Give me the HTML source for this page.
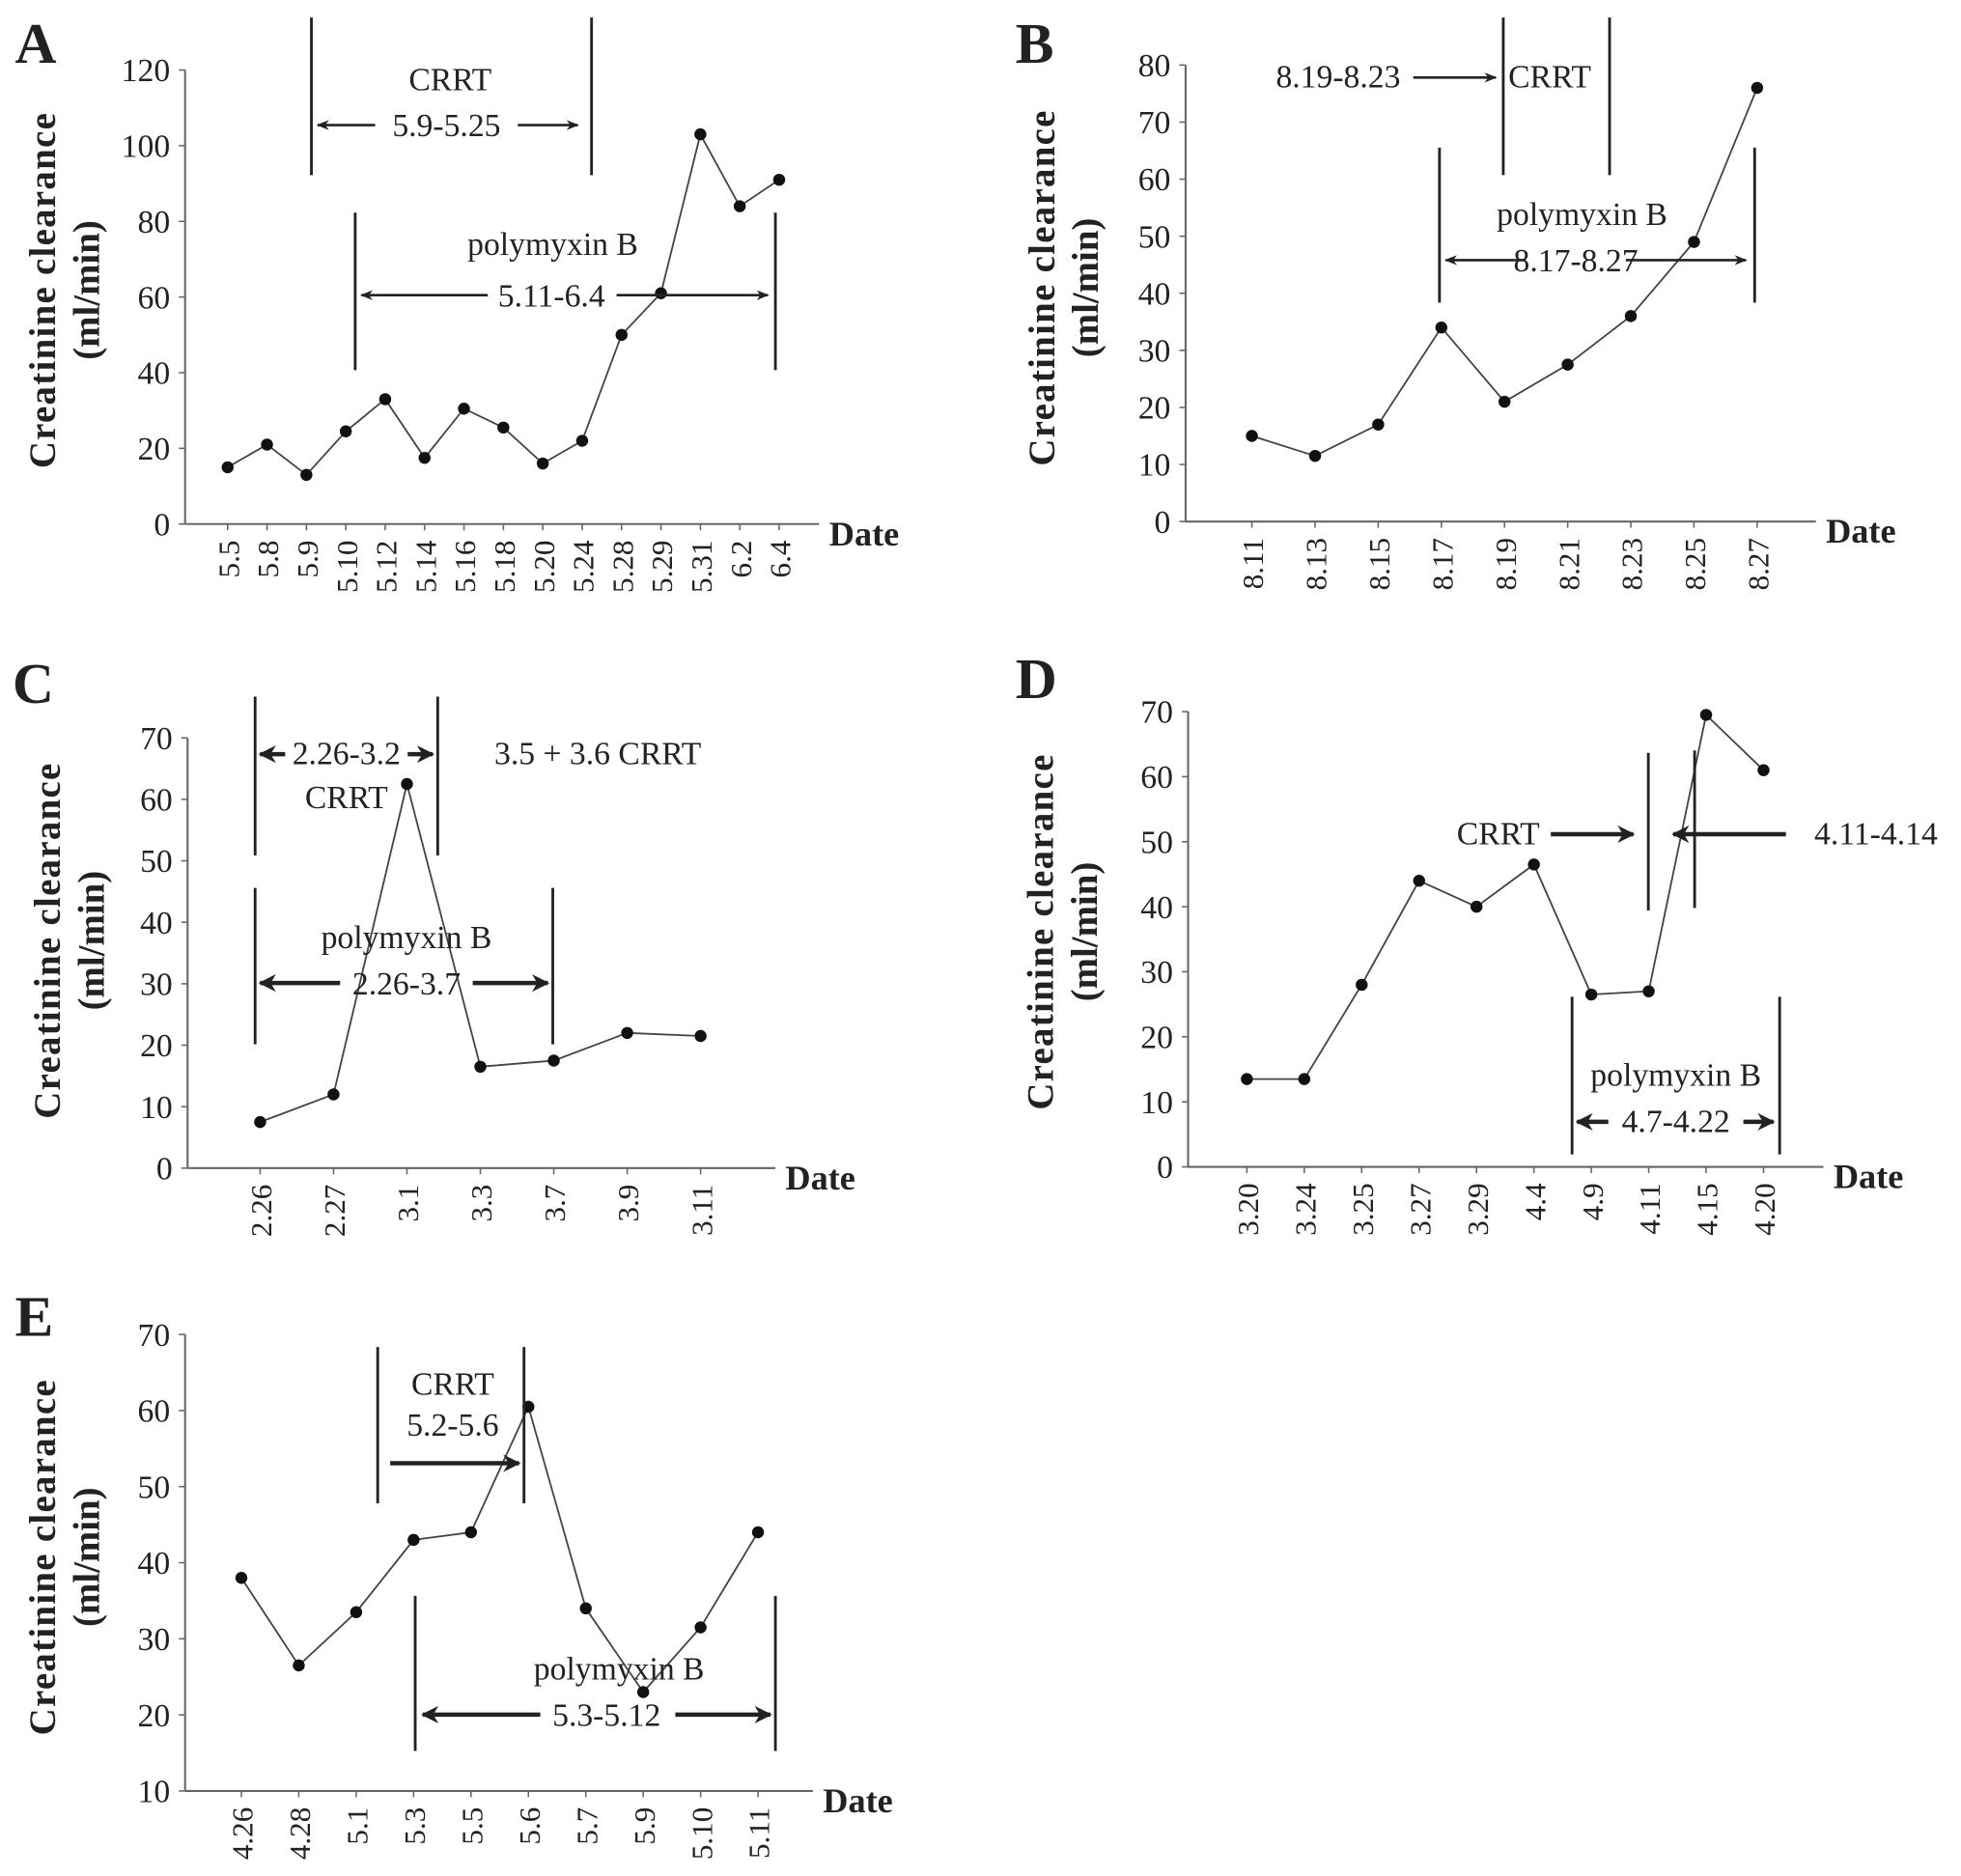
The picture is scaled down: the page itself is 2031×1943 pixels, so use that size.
<!DOCTYPE html>
<html><head><meta charset="utf-8"><style>
html,body{margin:0;padding:0;background:#fff;}
svg{display:block;}
text{font-family:"Liberation Serif",serif;fill:#222;}
</style></head><body>
<svg id="fig" width="2031" height="1943" viewBox="0 0 1568 1500" preserveAspectRatio="none" xmlns="http://www.w3.org/2000/svg">
<defs>
<marker id="ah" viewBox="0 0 10 10" refX="9" refY="5" markerWidth="5" markerHeight="5" orient="auto-start-reverse"><path d="M0,1 L10,5 L0,9 L3,5 z" fill="#222"/></marker>
<marker id="ahb" viewBox="0 0 10 10" refX="9" refY="5" markerWidth="4" markerHeight="4" orient="auto-start-reverse"><path d="M0,0 L10,5 L0,10 L3,5 z" fill="#222"/></marker>
</defs>
</svg>
<script>
// Panel A
const catsA=["5.5","5.8","5.9","5.10","5.12","5.14","5.16","5.18","5.20","5.24","5.28","5.29","5.31","6.2","6.4"];
const valsA=[15,21,13,24.5,33,17.5,30.5,25.5,16,22,50,61,103,84,91];
const ticksA=[0,20,40,60,80,100,120];
// Panel B
const catsB=["8.11","8.13","8.15","8.17","8.19","8.21","8.23","8.25","8.27"];
const valsB=[15,11.5,17,34,21,27.5,36,49,76];
const ticksB=[0,10,20,30,40,50,60,70,80];
// Panel C
const catsC=["2.26","2.27","3.1","3.3","3.7","3.9","3.11"];
const valsC=[7.5,12,62.5,16.5,17.5,22,21.5];
const ticksC=[0,10,20,30,40,50,60,70];
// Panel D
const catsD=["3.20","3.24","3.25","3.27","3.29","4.4","4.9","4.11","4.15","4.20"];
const valsD=[13.5,13.5,28,44,40,46.5,26.5,27,69.5,61];
const ticksD=[0,10,20,30,40,50,60,70];
// Panel E
const catsE=["4.26","4.28","5.1","5.3","5.5","5.6","5.7","5.9","5.10","5.11"];
const valsE=[38,26.5,33.5,43,44,60.5,34,23,31.5,44];
const ticksE=[10,20,30,40,50,60,70];

const NS="http://www.w3.org/2000/svg";
const svg=document.getElementById('fig');
function mk(tag,attrs,parent,txt){const e=document.createElementNS(NS,tag);for(const k in attrs)e.setAttribute(k,attrs[k]);if(txt!==undefined)e.textContent=txt;(parent||svg).appendChild(e);return e;}

function panel(id,cats,vals,ticks,g){
  const grp=mk('g',{});
  
  
  const y=v=>g.y0-(v-ticks[0])/(ticks[ticks.length-1]-ticks[0])*(g.y0-g.y1);
  const x=i=>g.xf+i*g.dx;
  const lab=mk('text',{x:g.lx,y:g.ly,'font-size':46,'font-weight':'bold'},grp,id);
  
  
  const ya=mk('line',{x1:g.ax,y1:g.y0,x2:g.ax,y2:y(ticks[ticks.length-1]),stroke:'#666','stroke-width':1.6},grp);
  
  
  const xa=mk('line',{x1:g.ax,y1:g.y0,x2:g.xe,y2:g.y0,stroke:'#666','stroke-width':1.6},grp);
  
  
  ticks.forEach(t=>{
    mk('line',{x1:g.ax-5,y1:y(t),x2:g.ax,y2:y(t),stroke:'#666','stroke-width':1.2},grp);
    const tl=mk('text',{x:g.ax-12,y:y(t)+9,'font-size':26,'text-anchor':'end'},grp,String(t));
    
    
  });
  cats.forEach((c,i)=>{
    mk('line',{x1:x(i),y1:g.y0,x2:x(i),y2:g.y0+5,stroke:'#666','stroke-width':1.2},grp);
    const tl=mk('text',{x:0,y:0,'font-size':24,'text-anchor':'end',transform:`translate(${x(i)+9},${g.y0+13}) rotate(-90)`},grp,c);
    
    
  });
  const dt=mk('text',{x:g.xe+8,y:g.y0+17,'font-size':28,'font-weight':'bold'},grp,'Date');
  
  
  const yt=mk('text',{'font-size':30,'font-weight':'bold','text-anchor':'middle',transform:`translate(${g.tx},${g.tc}) rotate(-90)`},grp);
  
  
  mk('tspan',{x:0,y:0,'letter-spacing':'1'},yt,'Creatinine clearance');
  mk('tspan',{x:0,y:35},yt,'(ml/min)');
  const pts=vals.map((v,i)=>x(i)+','+y(v)).join(' ');
  const ln=mk('polyline',{points:pts,fill:'none',stroke:'#444','stroke-width':1.4},grp);
  
  
  vals.forEach((v,i)=>{
    const p=mk('circle',{cx:x(i),cy:y(v),r:4.8,fill:'#111'},grp);
    
    
  });
}
panel('A',catsA,valsA,ticksA,{ax:148,xe:655,y0:419,y1:56,xf:182,dx:31.5,lx:12,ly:50,tx:44,tc:232});
panel('B',catsB,valsB,ticksB,{ax:948,xe:1452,y0:417,y1:52,xf:1001,dx:50.5,lx:812,ly:50,tx:843,tc:230});
panel('C',catsC,valsC,ticksC,{ax:150,xe:620,y0:934,y1:590,xf:208,dx:58.7,lx:10,ly:562,tx:48,tc:752});
panel('D',catsD,valsD,ticksD,{ax:950,xe:1458,y0:933,y1:569,xf:997,dx:45.9,lx:812,ly:558,tx:842,tc:745});
panel('E',catsE,valsE,ticksE,{ax:148,xe:650,y0:1432,y1:1067,xf:193,dx:45.9,lx:12,ly:1068,tx:44,tc:1245});

// annotations
function vline(x,y1,y2){const l=mk('line',{x1:x,y1:y1,x2:x,y2:y2,stroke:'#222','stroke-width':2.2});}
function arrow(x1,x2,y,start,end,bold){const m=bold?'url(#ahb)':'url(#ah)';const a={x1:x1,y1:y,x2:x2,y2:y,stroke:'#222','stroke-width':bold?3.5:2};if(start)a['marker-start']=m;if(end)a['marker-end']=m;const l=mk('line',a);}
function txt(x,y,s,anchor){const t=mk('text',{x:x,y:y,'font-size':26,'text-anchor':anchor||'middle'},svg,s);}
// A
vline(249,14,140);vline(473,14,140);txt(360,72,'CRRT');
arrow(254,300,100,true,false);arrow(414,462,100,false,true);txt(357,109,'5.9-5.25');
vline(284,170,296);vline(620,170,296);txt(442,204,'polymyxin B');
arrow(289,390,236,true,false);arrow(493,614,236,false,true);txt(441,245,'5.11-6.4');
// B
txt(1070,70,'8.19-8.23');arrow(1130,1196,62,false,true);txt(1206,70,'CRRT','start');
vline(1202,14,140);vline(1287,14,140);
vline(1151,118,242);vline(1403,118,242);txt(1265,180,'polymyxin B');
arrow(1156,1220,208,true,false);arrow(1300,1396,208,false,true);txt(1260,217,'8.17-8.27');
// C
vline(204,557,684);vline(350,557,684);
arrow(208,228,603,true,false,true);arrow(326,346,603,false,true,true);txt(277,611,'2.26-3.2');
txt(277,646,'CRRT');txt(478,611,'3.5 + 3.6 CRRT');
vline(204,710,835);vline(442,710,835);txt(325,758,'polymyxin B');
arrow(208,272,786,true,false,true);arrow(378,438,786,false,true,true);txt(325,795,'2.26-3.7');
// D
txt(1198,675,'CRRT');arrow(1240,1306,667,false,true,true);vline(1318,602,728);
vline(1355,600,726);arrow(1428,1338,667,false,true,true);txt(1500,675,'4.11-4.14');
vline(1257,797,923);vline(1423,797,923);txt(1340,868,'polymyxin B');
arrow(1261,1286,897,true,false,true);arrow(1394,1418,897,false,true,true);txt(1340,905,'4.7-4.22');
// E
vline(302,1077,1202);vline(419,1077,1202);txt(362,1115,'CRRT');txt(362,1148,'5.2-5.6');
arrow(312,415,1170,false,true,true);
vline(332,1276,1400);vline(620,1276,1400);txt(495,1343,'polymyxin B');
arrow(338,432,1371,true,false,true);arrow(540,616,1371,false,true,true);txt(485,1380,'5.3-5.12');
</script>
</body></html>
